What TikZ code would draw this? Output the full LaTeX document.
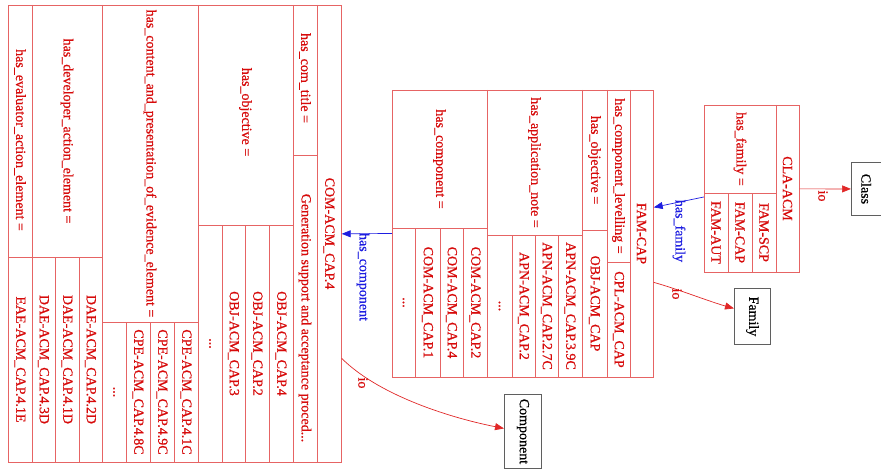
\documentclass[tikz,border=0pt]{standalone}
\usepackage{fontspec}
\setmainfont{Liberation Serif}
\newfontfamily\recfont{Liberation Serif}[FakeBold=0.6]
\usetikzlibrary{arrows.meta,calc}
\definecolor{recline}{RGB}{230,100,100}
\definecolor{rectext}{RGB}{215,10,10}
\definecolor{ioline}{RGB}{225,40,40}
\definecolor{relblue}{RGB}{30,30,225}
\definecolor{boxline}{RGB}{95,95,95}
\tikzset{
 rec/.style={draw=recline, line width=0.7pt, inner sep=0, anchor=north west},
 sepl/.style={draw=recline, line width=0.7pt},
 ghost/.style={inner sep=0},
 ftxt/.style={text=rectext, font=\recfont\fontsize{14}{14}\selectfont, rotate=-90, inner sep=0},
 etxt/.style={text=#1, font=\recfont\fontsize{14}{14}\selectfont, rotate=-90, inner sep=0},
 btxt/.style={text=black, font=\recfont\fontsize{14}{14}\selectfont, rotate=-90, inner sep=0},
 cls/.style={draw=boxline, line width=0.9pt, inner sep=0, anchor=north west},
 ioarrow/.style={draw=ioline, line width=0.7pt, -{Triangle[length=9pt,width=7pt]}},
 relarrow/.style={draw=relblue, line width=0.7pt, -{Triangle[length=9pt,width=7pt]}},
}
\begin{document}
\begin{tikzpicture}[x=1pt,y=-1pt]
\useasboundingbox (0,0) rectangle (881,476);
\fill[white] (0,0) rectangle (881,476);

% ---------------- COM-ACM_CAP.4 record ----------------
\node[rec, minimum width=333pt, minimum height=457pt] (com) at (8,5) {};
\foreach \x in {32,102,198,293,317} \draw[sepl] (\x,5) -- (\x,462);
\draw[sepl] (293,155) -- (317,155);
\draw[sepl] (198,225) -- (293,225);
\foreach \x in {222,245,269} \draw[sepl] (\x,225) -- (\x,462);
\draw[sepl] (102,322) -- (198,322);
\foreach \x in {126,150,174} \draw[sepl] (\x,322) -- (\x,462);
\draw[sepl] (8,257) -- (102,257);
\foreach \x in {55,79} \draw[sepl] (\x,257) -- (\x,462);

\node[ftxt] (comt) at (329,233.5) {COM-ACM\_CAP.4};
\node[ftxt] (comtl) at (305,78) {has\_com\_title =};
\node[ftxt] (comtv) at (305,318) {Generation support and acceptance proced...};
\node[ftxt] (comol) at (245.5,112) {has\_objective =};
\node[ftxt] (como1) at (281,343.5) {OBJ-ACM\_CAP.4};
\node[ftxt] (como2) at (257,343.5) {OBJ-ACM\_CAP.2};
\node[ftxt] (como3) at (233.5,343.5) {OBJ-ACM\_CAP.3};
\node[ftxt] (como4) at (210,343.5) {...};
\node[ftxt] (comcl) at (150,163.5) {has\_content\_and\_presentation\_of\_evidence\_element =};
\node[ftxt] (comc1) at (186,392) {CPE-ACM\_CAP.4.1C};
\node[ftxt] (comc2) at (162,392) {CPE-ACM\_CAP.4.9C};
\node[ftxt] (comc3) at (138,392) {CPE-ACM\_CAP.4.8C};
\node[ftxt] (comc4) at (114,392) {...};
\node[ftxt] (comdl) at (67,131) {has\_developer\_action\_element =};
\node[ftxt] (comd1) at (90.5,359.5) {DAE-ACM\_CAP.4.2D};
\node[ftxt] (comd2) at (67,359.5) {DAE-ACM\_CAP.4.1D};
\node[ftxt] (comd3) at (43.5,359.5) {DAE-ACM\_CAP.4.3D};
\node[ftxt] (comel) at (20,140) {has\_evaluator\_action\_element =};
\node[ftxt] (come1) at (20,359.5) {EAE-ACM\_CAP.4.1E};

% ---------------- FAM-CAP record ----------------
\node[rec, minimum width=261pt, minimum height=287pt] (fam) at (392,90) {};
\foreach \x in {487,582,607,630} \draw[sepl] (\x,90) -- (\x,377);
\draw[sepl] (607,262) -- (630,262);
\draw[sepl] (582,230) -- (607,230);
\draw[sepl] (487,235) -- (582,235);
\foreach \x in {512,535,558} \draw[sepl] (\x,235) -- (\x,377);
\draw[sepl] (392,228) -- (487,228);
\foreach \x in {415,440,463} \draw[sepl] (\x,228) -- (\x,377);

\node[ftxt] (famt) at (641.5,233.5) {FAM-CAP};
\node[ftxt] (famll) at (618.5,176) {has\_component\_levelling =};
\node[ftxt] (famlv) at (618.5,319.5) {CPL-ACM\_CAP};
\node[ftxt] (famol) at (594.5,160) {has\_objective =};
\node[ftxt] (famov) at (594.5,303.5) {OBJ-ACM\_CAP};
\node[ftxt] (famal) at (534.5,162.5) {has\_application\_note =};
\node[ftxt] (fama1) at (570,306) {APN-ACM\_CAP.3.9C};
\node[ftxt] (fama2) at (546.5,306) {APN-ACM\_CAP.2.7C};
\node[ftxt] (fama3) at (523.5,306) {APN-ACM\_CAP.2};
\node[ftxt] (fama4) at (499.5,306) {...};
\node[ftxt] (famcl) at (439.5,159) {has\_component =};
\node[ftxt] (famc1) at (475,302.5) {COM-ACM\_CAP.2};
\node[ftxt] (famc2) at (451.5,302.5) {COM-ACM\_CAP.4};
\node[ftxt] (famc3) at (427.5,302.5) {COM-ACM\_CAP.1};
\node[ftxt] (famc4) at (403.5,302.5) {...};
\node[ghost, minimum width=95pt, minimum height=287pt] (famcomp) at (439.5,233.5) {};

% ---------------- CLA-ACM record ----------------
\node[rec, minimum width=95pt, minimum height=167pt] (cla) at (704,105) {};
\draw[sepl] (776,105) -- (776,272);
\draw[sepl] (704,193) -- (776,193);
\foreach \x in {728,752} \draw[sepl] (\x,193) -- (\x,272);
\node[ftxt] (clat) at (787.5,188.5) {CLA-ACM};
\node[ftxt] (clafl) at (740,149) {has\_family =};
\node[ftxt] (claf1) at (764,232.5) {FAM-SCP};
\node[ftxt] (claf2) at (740,232.5) {FAM-CAP};
\node[ftxt] (claf3) at (716,232.5) {FAM-AUT};
\node[ghost, minimum width=72pt, minimum height=167pt] (clafam) at (740,188.5) {};

% ---------------- class boxes ----------------
\node[cls, minimum width=29.5pt, minimum height=53pt] (class) at (851,162) {};
\node[btxt] at (class.center) {Class};
\node[cls, minimum width=36pt, minimum height=56pt] (family) at (734,288) {};
\node[btxt] at (family.center) {Family};
\node[cls, minimum width=37pt, minimum height=74pt] (component) at (504,394) {};
\node[btxt] at (component.center) {Component};

% ---------------- edges ----------------
\draw[ioarrow] (cla.east) -- (class.west);
\node[etxt=rectext] (io1) at (823,196) {io};

\draw[relarrow] ([yshift=-8.5pt]clafam.west) -- ([yshift=26.5pt]fam.east);
\node[etxt=relblue] (hf) at (679,231) {has\_family};

\coordinate (f1) at ([yshift=-48.5pt]fam.east);
\coordinate (f2) at ([yshift=8pt]family.west);
\draw[ioarrow] (f1) .. controls ($(f1)+(25,7)$) and ($(f2)+(-25,-7)$) .. (f2);
\node[etxt=rectext] (io2) at (677,294) {io};

\draw[relarrow] (famcomp.west) -- (com.east);
\node[etxt=relblue] (hc) at (363,277) {has\_component};

\coordinate (c1) at ([yshift=-124.5pt]com.east);
\coordinate (c2) at ([yshift=3pt]component.west);
\draw[ioarrow] (c1) .. controls ($(c1)+(35,35)$) and ($(c2)+(-60,-12)$) .. (c2);
\node[etxt=rectext] (io3) at (363,383) {io};
\end{tikzpicture}
\end{document}
